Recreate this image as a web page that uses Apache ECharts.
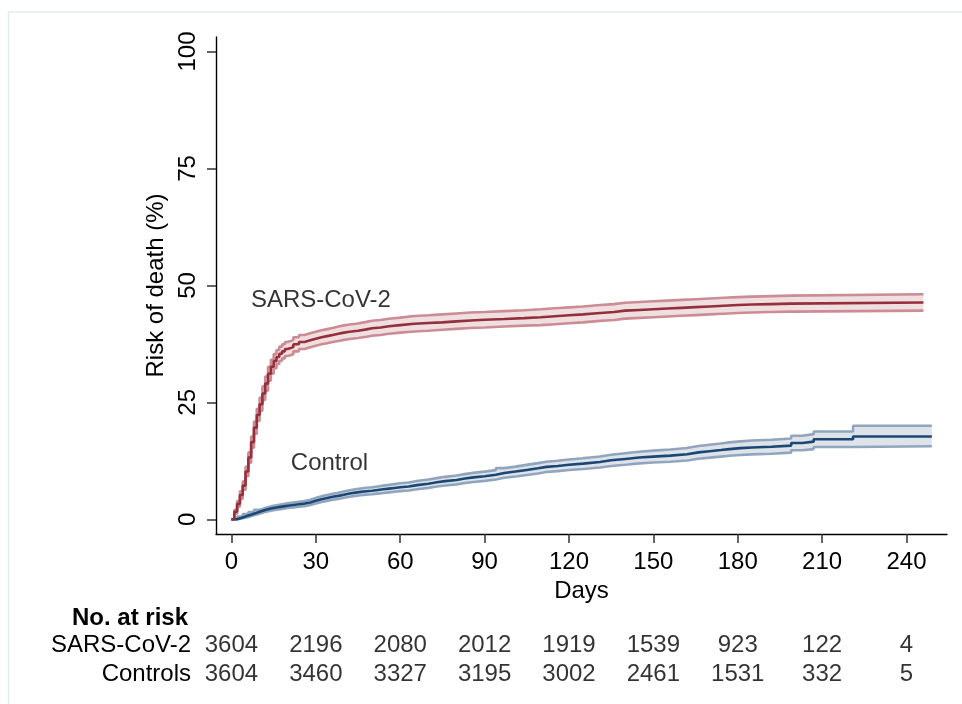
<!DOCTYPE html>
<html>
<head>
<meta charset="utf-8">
<script src="https://cdn.jsdelivr.net/npm/echarts@6/dist/echarts.min.js"></script>
<style>
html,body{margin:0;padding:0;background:#fff;}
#chart{width:962px;height:704px;}
</style>
</head>
<body>
<div id="chart"></div>
<script>
// ---- data ----
const xTicks = [0, 30, 60, 90, 120, 150, 180, 210, 240];
const yTicks = [0, 25, 50, 75, 100];

const covidDays  = [0,1,2,3,4,5,6,7,8,9,10,11,12,13,14,15,16,17,18,19,
  20,22,24,26,28,30,32,34,36,38,40,42,45,48,50,53,56,60,
  65,70,75,80,85,90,97,104,110,115,120,125,130,136,140,145,150,155,160,165,170,175,180,185,192,199,246];
const covidRisk  = [0,1.6,3.3,5.2,7.2,10.2,13.2,16.5,19.6,22.3,24.6,26.9,29.0,31.1,32.6,33.8,34.7,35.4,35.9,36.4,
  36.8,37.4,37.9,38.25,38.6,38.9,39.15,39.4,39.65,39.9,40.1,40.3,40.6,40.85,41.0,41.25,41.5,41.8,
  41.95,42.1,42.3,42.5,42.65,42.8,43.0,43.2,43.4,43.6,43.8,44.05,44.3,44.6,44.75,44.9,45.05,45.2,45.35,45.5,45.65,45.8,45.9,46.0,46.1,46.35,46.35];
const covidLower = [0,1.2,2.7,4.4,6.3,9.2,12.1,15.3,18.3,21.0,23.2,25.5,27.5,29.6,31.1,32.3,33.2,33.9,34.4,34.9,
  35.3,35.9,36.4,36.75,37.1,37.4,37.65,37.9,38.1,38.35,38.55,38.75,39.0,39.25,39.4,39.65,39.9,40.15,
  40.3,40.5,40.7,40.9,41.0,41.2,41.4,41.5,41.7,41.9,42.1,42.35,42.6,42.9,43.05,43.2,43.35,43.5,43.65,43.8,43.95,44.1,44.2,44.3,44.4,44.6,44.6];
const covidUpper = [0,2.0,3.9,6.0,8.1,11.2,14.3,17.7,20.9,23.6,26.0,28.4,30.5,32.6,34.1,35.3,36.2,36.9,37.4,37.9,
  38.3,38.9,39.4,39.75,40.1,40.4,40.65,40.9,41.2,41.45,41.65,41.85,42.2,42.45,42.6,42.85,43.1,43.45,
  43.6,43.8,44.0,44.2,44.3,44.5,44.7,44.9,45.1,45.3,45.5,45.75,46.0,46.3,46.45,46.6,46.75,46.9,47.05,47.2,47.35,47.5,47.6,47.7,47.8,48.1,48.1];

const ctrlDays  = [0,2,4,6,8,10,12,14,16,18,20,22,24,26,28,30,32,34,36,38,40,42,44,46,48,50,52,54,56,58,60,
  63,66,70,73,76,80,83,86,90,94,97,101,105,109,112,116,120,
  125,131,135,140,145,150,156,162,166,170,174,177,181,185,192,199,203,207,221,249];
const ctrlRisk  = [0,0.4,0.8,1.2,1.6,2.0,2.3,2.5,2.7,2.9,3.05,3.2,3.35,3.6,3.95,4.3,4.55,4.8,5.0,5.25,5.5,5.7,5.85,6.0,6.1,6.25,6.4,6.55,6.7,6.85,7.0,
  7.3,7.6,7.9,8.15,8.4,8.7,8.95,9.2,9.5,9.9,10.2,10.55,10.9,11.2,11.4,11.65,11.9,
  12.25,12.6,12.9,13.2,13.4,13.6,13.9,14.3,14.55,14.8,15.0,15.2,15.35,15.5,15.75,16.3,16.6,17.1,17.7,17.7];
const ctrlLower = [0,0.2,0.5,0.85,1.2,1.58,1.85,2.03,2.2,2.4,2.53,2.66,2.8,3.03,3.36,3.7,3.93,4.16,4.35,4.58,4.81,5.0,5.13,5.26,5.35,5.48,5.61,5.75,5.88,6.01,6.15,
  6.43,6.71,7.0,7.23,7.46,7.75,7.98,8.21,8.5,8.87,9.15,9.47,9.8,10.1,10.3,10.52,10.75,
  11.07,11.4,11.67,11.95,12.12,12.3,12.57,12.95,13.17,13.4,13.57,13.75,13.87,14.0,14.25,14.75,15.0,15.45,15.6,15.6];
const ctrlUpper = [0,0.6,1.1,1.55,2.0,2.42,2.75,2.97,3.2,3.4,3.57,3.74,3.9,4.17,4.54,4.9,5.17,5.44,5.65,5.92,6.19,6.4,6.57,6.74,6.85,7.02,7.19,7.35,7.52,7.69,7.85,
  8.17,8.49,8.8,9.07,9.34,9.65,9.92,10.19,10.5,10.93,11.25,11.63,12.0,12.3,12.5,12.78,13.05,
  13.43,13.8,14.13,14.45,14.68,14.9,15.23,15.65,15.93,16.2,16.43,16.65,16.83,17.0,17.25,17.85,18.2,18.75,20.0,20.0];

const riskRows   = ['SARS-CoV-2', 'Controls'];
const riskCovid  = [3604, 2196, 2080, 2012, 1919, 1539, 923, 122, 4];
const riskCtrl   = [3604, 3460, 3327, 3195, 3002, 2461, 1531, 332, 5];

const curveLabels = [
  { name: 'SARS-CoV-2', day: 6.9, value: 46.7 },
  { name: 'Control', day: 21.1, value: 11.9 }
];

// ---- styling ----
const FONT = '"Liberation Sans", Arial, Helvetica, sans-serif';
const FS = 24;
const RED = '#952f3b', RED_BAND = '#cc8c93', RED_FILL = '#efdfe1';
const BLUE = '#1b4774', BLUE_BAND = '#91a6bd', BLUE_FILL = '#dee3ea';

const pairs = (xs, ys) => xs.map((x, i) => [x, ys[i]]);

// Filled confidence band as one stepped polygon, placed through the axes' scales.
function bandFill(id, xs, lo, hi, fill) {
  return {
    type: 'custom', name: id + '-fill', silent: true, z: 1,
    xAxisIndex: 0, yAxisIndex: 0,
    data: xs.map((x, i) => [x, lo[i], hi[i]]),
    encode: { x: 0, y: [1, 2] },
    renderItem: function (params, api) {
      if (params.dataIndex !== 0) return null;
      const top = [], bottom = [];
      for (let i = 0; i < xs.length; i++) {
        const xNext = i < xs.length - 1 ? xs[i + 1] : xs[i];
        top.push(api.coord([xs[i], hi[i]]));
        top.push(api.coord([xNext, hi[i]]));
        bottom.push(api.coord([xs[i], lo[i]]));
        bottom.push(api.coord([xNext, lo[i]]));
      }
      const pts = top.concat(bottom.reverse());
      return { type: 'polygon', shape: { points: pts }, style: { fill: fill, stroke: null } };
    }
  };
}

function bandSeries(id, xs, lo, hi, fill, bandColor, mainColor, ys) {
  return [
    bandFill(id, xs, lo, hi, fill),
    { type: 'line', name: id + '-lower', data: pairs(xs, lo), step: 'end', showSymbol: false,
      lineStyle: { color: bandColor, width: 2.6 }, silent: true, z: 2 },
    { type: 'line', name: id + '-upper', data: pairs(xs, hi), step: 'end', showSymbol: false,
      lineStyle: { color: bandColor, width: 2.6 }, silent: true, z: 2 },
    { type: 'line', name: id, data: pairs(xs, ys), step: 'end', showSymbol: false,
      lineStyle: { color: mainColor, width: 2.6 }, silent: true, z: 3 }
  ];
}

const riskData = [];
xTicks.forEach((d, i) => {
  riskData.push([d, 0, riskCovid[i]]);
  riskData.push([d, 1, riskCtrl[i]]);
});

const chart = echarts.init(document.getElementById('chart'));
chart.setOption({
  animation: false,
  backgroundColor: '#ffffff',
  textStyle: { fontFamily: FONT, color: '#000' },
  graphic: [
    { type: 'polyline', shape: { points: [[8.5, 704], [8.5, 12], [962, 12]] },
      style: { stroke: '#e3ebed', lineWidth: 1.5, fill: null }, silent: true },
    { type: 'text', style: { x: 188, y: 618, text: 'No. at risk', textAlign: 'right',
      textVerticalAlign: 'middle', font: 'bold 24px ' + FONT, fill: '#000' } }
  ],
  grid: [
    { left: 216, right: 15, top: 37, bottom: 170 },
    { left: 216, right: 15, top: 631, height: 58 }
  ],
  xAxis: [
    {
      type: 'value', gridIndex: 0, min: -5.5, max: 254.4,
      name: 'Days', nameLocation: 'middle', nameGap: 41,
      nameTextStyle: { fontSize: FS, color: '#000', fontFamily: FONT },
      axisLine: { show: true, onZero: false, lineStyle: { color: '#000', width: 1.4 } },
      axisTick: { show: true, length: 9, customValues: xTicks, lineStyle: { color: '#333', width: 1.5 } },
      axisLabel: { customValues: xTicks, fontSize: FS, color: '#000', margin: 16, fontFamily: FONT },
      splitLine: { show: false }
    },
    {
      type: 'value', gridIndex: 1, min: -5.5, max: 254.4, show: false
    }
  ],
  yAxis: [
    {
      type: 'value', gridIndex: 0, min: -3.15, max: 103.1,
      name: 'Risk of death (%)', nameLocation: 'middle', nameGap: 46,
      nameTextStyle: { fontSize: FS, color: '#000', fontFamily: FONT },
      axisLine: { show: true, onZero: false, lineStyle: { color: '#000', width: 1.4 } },
      axisTick: { show: true, length: 9, customValues: yTicks, lineStyle: { color: '#333', width: 1.5 } },
      axisLabel: { customValues: yTicks, fontSize: FS, color: '#000', rotate: 90, margin: 16, fontFamily: FONT },
      splitLine: { show: false }
    },
    {
      type: 'category', gridIndex: 1, data: riskRows, inverse: true,
      axisLine: { show: false }, axisTick: { show: false }, splitLine: { show: false },
      axisLabel: { interval: 0, fontSize: FS, color: '#000', margin: 25, fontFamily: FONT }
    }
  ],
  series: [
    ...bandSeries('ctrl', ctrlDays, ctrlLower, ctrlUpper, BLUE_FILL, BLUE_BAND, BLUE, ctrlRisk),
    ...bandSeries('covid', covidDays, covidLower, covidUpper, RED_FILL, RED_BAND, RED, covidRisk),
    {
      type: 'scatter', name: 'labels', xAxisIndex: 0, yAxisIndex: 0, symbolSize: 0, silent: true,
      data: curveLabels.map(l => ({ name: l.name, value: [l.day, l.value] })),
      label: { show: true, position: 'right', distance: 0, formatter: '{b}',
        fontSize: FS, color: '#000', fontFamily: FONT }
    },
    {
      type: 'scatter', name: 'atrisk', xAxisIndex: 1, yAxisIndex: 1, symbolSize: 0, silent: true,
      data: riskData,
      label: { show: true, position: 'inside', formatter: p => String(p.data[2]),
        fontSize: FS, color: '#000', fontFamily: FONT }
    }
  ]
});
</script>
</body>
</html>
